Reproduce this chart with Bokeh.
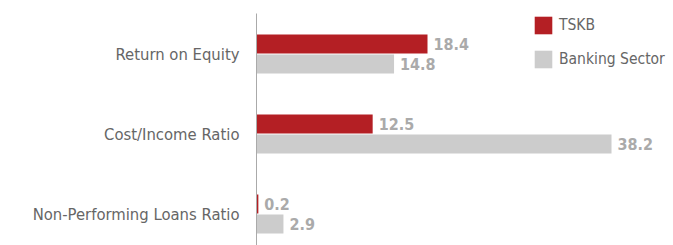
from bokeh.plotting import figure
from bokeh.models import ColumnDataSource, Range1d, FixedTicker, Legend, LegendItem
from bokeh.transform import dodge
from bokeh.core.properties import value
from bokeh.embed import file_html
from bokeh.resources import INLINE

categories = ["Return on Equity", "Cost/Income Ratio", "Non-Performing Loans Ratio"]
tskb = [18.4, 12.5, 0.2]
sector = [14.8, 38.2, 2.9]
series_names = ["TSKB", "Banking Sector"]

RED = "#B41F24"
GREY = "#CCCCCC"
FONT = "DejaVu Sans Condensed"

n = len(categories)
ypos = [n - 0.5 - i for i in range(n)]

src = ColumnDataSource(dict(
    y=ypos, cat=categories, tskb=tskb, sector=sector,
    tskb_lbl=[f"{v:.1f}" for v in tskb],
    sector_lbl=[f"{v:.1f}" for v in sector],
))

W, H = 673, 245
p = figure(width=W, height=H, output_backend="svg", toolbar_location=None,
           x_range=Range1d(0, 44.87), y_range=Range1d(0.10625, 3.00625),
           min_border_left=256, min_border_right=0, min_border_top=13, min_border_bottom=0,
           outline_line_color=None, background_fill_color="white", border_fill_color="white")

r1 = p.hbar(y=dodge("y", 0.125, range=p.y_range), right="tskb", left=0, height=0.2375,
            source=src, color=RED, line_color=None)
r2 = p.hbar(y=dodge("y", -0.125, range=p.y_range), right="sector", left=0, height=0.2375,
            source=src, color=GREY, line_color=None)

p.text(x="tskb", y=dodge("y", 0.125, range=p.y_range), text="tskb_lbl", source=src,
       x_offset=6, text_baseline="middle", text_font=value(FONT), text_font_size="16px",
       text_font_style="bold", text_color="#AAAAAA")
p.text(x="sector", y=dodge("y", -0.125, range=p.y_range), text="sector_lbl", source=src,
       x_offset=6, text_baseline="middle", text_font=value(FONT), text_font_size="16px",
       text_font_style="bold", text_color="#AAAAAA")

p.xaxis.visible = False
p.xgrid.visible = False
p.ygrid.visible = False

yax = p.yaxis[0]
yax.ticker = FixedTicker(ticks=ypos)
yax.major_label_overrides = {y: c for y, c in zip(ypos, categories)}
yax.major_tick_line_color = None
yax.major_tick_out = 0
yax.major_tick_in = 0
yax.minor_tick_line_color = None
yax.minor_tick_out = 0
yax.axis_line_color = "#AAAAAA"
yax.axis_line_width = 1
yax.major_label_standoff = 17
yax.major_label_text_font = FONT
yax.major_label_text_font_size = "16.5px"
yax.major_label_text_color = "#666666"

legend = Legend(items=[LegendItem(label=series_names[0], renderers=[r1]),
                       LegendItem(label=series_names[1], renderers=[r2])],
                location=(276, 175), padding=0, margin=0, spacing=12,
                glyph_width=22, glyph_height=22, label_height=22,
                label_standoff=5, border_line_color=None, background_fill_alpha=0,
                label_text_font=FONT, label_text_font_size="15.5px", label_text_color="#666666",
                label_text_baseline="middle")
p.add_layout(legend)

open("out.html", "w").write(file_html(p, INLINE))
